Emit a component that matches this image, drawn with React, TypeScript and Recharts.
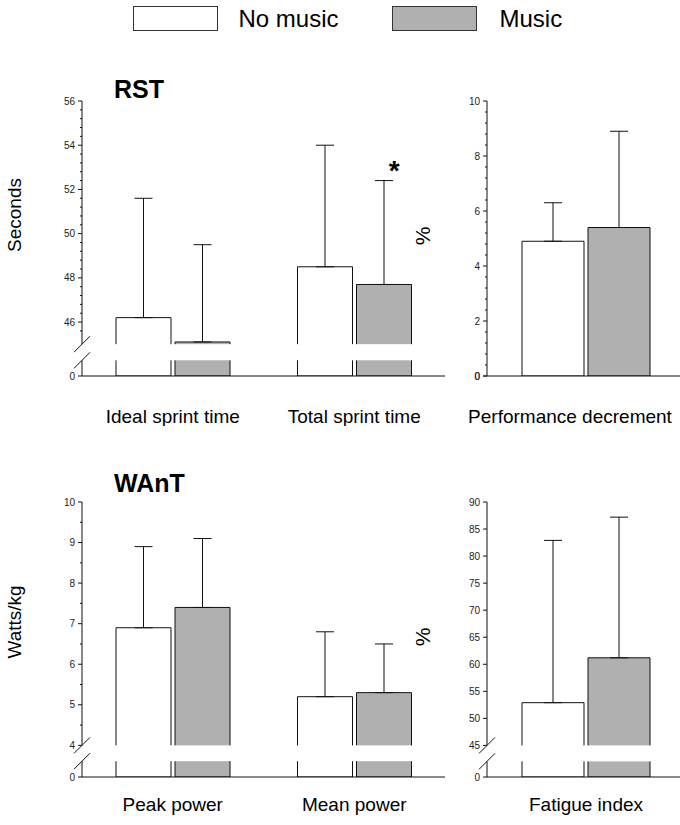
import { BarChart, Bar, XAxis, YAxis, ErrorBar, ReferenceArea, ReferenceDot } from 'recharts'

const FONT = '"Liberation Sans", Arial, Helvetica, sans-serif'

const seriesNames = ['No music', 'Music']
const seriesColors = ['#ffffff', '#b0b0b0']

// RST: sprint times (s)
const rstTimeCategories = ['Ideal sprint time', 'Total sprint time']
const rstTimeNoMusic = [46.2, 48.5]
const rstTimeMusic = [45.1, 47.7]
const rstTimeNoMusicSd = [5.4, 5.5]
const rstTimeMusicSd = [4.4, 4.7]
const rstTimeTicks = [46, 48, 50, 52, 54, 56]

// RST: performance decrement (%)
const rstDecCategories = ['Performance decrement']
const rstDecNoMusic = [4.9]
const rstDecMusic = [5.4]
const rstDecNoMusicSd = [1.4]
const rstDecMusicSd = [3.5]
const rstDecTicks = [0, 2, 4, 6, 8, 10]

// WAnT: power (W/kg)
const wantPowerCategories = ['Peak power', 'Mean power']
const wantPowerNoMusic = [6.9, 5.2]
const wantPowerMusic = [7.4, 5.3]
const wantPowerNoMusicSd = [2.0, 1.6]
const wantPowerMusicSd = [1.7, 1.2]
const wantPowerTicks = [4, 5, 6, 7, 8, 9, 10]

// WAnT: fatigue index (%)
const wantFatigueCategories = ['Fatigue index']
const wantFatigueNoMusic = [52.9]
const wantFatigueMusic = [61.2]
const wantFatigueNoMusicSd = [30.0]
const wantFatigueMusicSd = [26.0]
const wantFatigueTicks = [45, 50, 55, 60, 65, 70, 75, 80, 85, 90]

// significant difference marker (music vs no music)
const starCategory = 'Total sprint time'
const starValue = 52.4

const steps = (from: number, to: number, step: number) => {
  const out: number[] = []
  for (let i = 0; from + i * step <= to + 1e-9; i++) out.push(Math.round((from + i * step) * 100) / 100)
  return out
}

const near = (a: number, b: number) => Math.abs(a - b) < 1e-6

function YTick({ x, y, payload, majors, bottom }: any) {
  const v = payload.value
  const isBottom = near(v, bottom)
  const isMajor = isBottom || majors.some((m: number) => near(m, v))
  return (
    <g>
      <line x1={x - (isMajor ? 4 : 2)} x2={x} y1={y} y2={y} stroke="#111" />
      {isMajor && (
        <text x={x - 7} y={y} dy="0.36em" textAnchor="end" fontSize={10} fontFamily={FONT} fill="#222">
          {isBottom ? '0' : v}
        </text>
      )}
    </g>
  )
}

function XTick({ x, y, payload, shift }: any) {
  return (
    <text x={x + (shift || 0)} y={y} dy="0.71em" textAnchor="middle" fontSize={19} fontFamily={FONT} fill="#000">
      {payload.value}
    </text>
  )
}

function BreakShape({ x, y, width, height }: any) {
  return (
    <g>
      <rect x={x - 3} y={y} width={width + 3} height={height} fill="#fff" />
      <line x1={x - 8} y1={y + 8} x2={x + 8} y2={y - 8} stroke="#111" />
      <line x1={x - 8} y1={y + height + 8} x2={x + 8} y2={y + height - 8} stroke="#111" />
    </g>
  )
}

interface PanelProps {
  left: number
  top: number
  width: number
  height: number
  categories: string[]
  noMusic: number[]
  music: number[]
  noMusicSd: number[]
  musicSd: number[]
  domain: [number, number]
  majors: number[]
  minors: number[]
  axisBreak?: [number, number]
  barSize: number
  labelGap: number
  labelShift?: number
  star?: boolean
}

function Panel(p: PanelProps) {
  const rows = p.categories.map((name, i) => ({
    name,
    noMusic: p.noMusic[i],
    music: p.music[i],
    noMusicErr: [0, p.noMusicSd[i]],
    musicErr: [0, p.musicSd[i]],
  }))
  const ticks = [p.domain[0], ...p.minors, ...p.majors].sort((a, b) => a - b)
  return (
    <div style={{ position: 'absolute', left: p.left, top: p.top }}>
      <BarChart
        width={p.width}
        height={p.height}
        data={rows}
        barGap={4}
        margin={{ top: 41, right: 0, left: 0, bottom: 0 }}
      >
        <XAxis
          dataKey="name"
          height={p.height - 41 - 275}
          axisLine={{ stroke: '#111' }}
          tickLine={false}
          tickSize={0}
          tickMargin={p.labelGap}
          interval={0}
          tick={<XTick shift={p.labelShift} />}
        />
        <YAxis
          type="number"
          width={82}
          domain={p.domain}
          allowDataOverflow
          ticks={ticks}
          interval={0}
          axisLine={{ stroke: '#111' }}
          tickLine={false}
          tickSize={0}
          tickMargin={0}
          tick={(tp: any) => <YTick {...tp} majors={p.majors} bottom={p.domain[0]} />}
        />
        <Bar dataKey="noMusic" name={seriesNames[0]} fill={seriesColors[0]} stroke="#111" strokeWidth={1} barSize={p.barSize} isAnimationActive={false}>
          <ErrorBar dataKey="noMusicErr" width={9} stroke="#111" strokeWidth={1} direction="y" isAnimationActive={false} />
        </Bar>
        <Bar dataKey="music" name={seriesNames[1]} fill={seriesColors[1]} stroke="#111" strokeWidth={1} barSize={p.barSize} isAnimationActive={false}>
          <ErrorBar dataKey="musicErr" width={9} stroke="#111" strokeWidth={1} direction="y" isAnimationActive={false} />
        </Bar>
        {p.axisBreak && (
          <ReferenceArea
            y1={p.axisBreak[0]}
            y2={p.axisBreak[1]}
            ifOverflow="visible"
            shape={<BreakShape />}
            zIndex={1500}
          />
        )}
        {p.star && (
          <ReferenceDot
            x={starCategory}
            y={starValue}
            r={0}
            zIndex={1600}
            shape={(d: any) => (
              <text x={d.cx + 40} y={d.cy - 1} textAnchor="middle" fontSize={28} fontWeight="bold" fontFamily={FONT} fill="#000">
                *
              </text>
            )}
          />
        )}
      </BarChart>
    </div>
  )
}

export default function App() {
  return (
    <div
      style={{
        position: 'absolute',
        left: 0,
        top: 0,
        width: 680,
        height: 825,
        overflow: 'hidden',
        background: '#fff',
        fontFamily: FONT,
      }}
    >
      {/* legend */}
      <svg width={680} height={45} style={{ position: 'absolute', left: 0, top: 0 }}>
        {seriesNames.map((name, i) => (
          <g key={name}>
            <rect x={133.5 + i * 259} y={6.5} width={84} height={24} fill={seriesColors[i]} stroke="#333" />
            <text x={238.5 + i * 261} y={27} fontSize={24} fontFamily={FONT} fill="#000">
              {name}
            </text>
          </g>
        ))}
      </svg>

      <Panel
        left={0}
        top={60}
        width={445}
        height={366}
        categories={rstTimeCategories}
        noMusic={rstTimeNoMusic}
        music={rstTimeMusic}
        noMusicSd={rstTimeNoMusicSd}
        musicSd={rstTimeMusicSd}
        domain={[43.56, 56]}
        majors={rstTimeTicks}
        minors={steps(45.6, 56, 0.4).filter(v => !rstTimeTicks.some(m => near(m, v)))}
        axisBreak={[44.27, 45.0]}
        barSize={55}
        labelGap={34}
        star
      />
      <Panel
        left={405}
        top={60}
        width={280}
        height={366}
        categories={rstDecCategories}
        noMusic={rstDecNoMusic}
        music={rstDecMusic}
        noMusicSd={rstDecNoMusicSd}
        musicSd={rstDecMusicSd}
        domain={[0, 10]}
        majors={rstDecTicks}
        minors={steps(0.4, 10, 0.4).filter(v => !rstDecTicks.some(m => near(m, v)))}
        barSize={62}
        labelGap={34}
        labelShift={-16}
      />
      <Panel
        left={0}
        top={461}
        width={445}
        height={364}
        categories={wantPowerCategories}
        noMusic={wantPowerNoMusic}
        music={wantPowerMusic}
        noMusicSd={wantPowerNoMusicSd}
        musicSd={wantPowerMusicSd}
        domain={[3.22, 10]}
        majors={wantPowerTicks}
        minors={steps(4.5, 9.5, 1)}
        axisBreak={[3.61, 4.0]}
        barSize={55}
        labelGap={21}
      />
      <Panel
        left={405}
        top={461}
        width={280}
        height={364}
        categories={wantFatigueCategories}
        noMusic={wantFatigueNoMusic}
        music={wantFatigueMusic}
        noMusicSd={wantFatigueNoMusicSd}
        musicSd={wantFatigueMusicSd}
        domain={[39.16, 90]}
        majors={wantFatigueTicks}
        minors={[]}
        axisBreak={[42.05, 45.0]}
        barSize={62}
        labelGap={21}
      />

      {/* titles and axis titles */}
      <svg width={680} height={825} style={{ position: 'absolute', left: 0, top: 0, pointerEvents: 'none' }}>
        <text x={114} y={98} fontSize={25} fontWeight="bold" fontFamily={FONT} fill="#000">RST</text>
        <text x={114} y={492} fontSize={25} fontWeight="bold" fontFamily={FONT} fill="#000">WAnT</text>
        <text x={14} y={215} transform="rotate(-90 14 215)" textAnchor="middle" dominantBaseline="central" fontSize={19} fontFamily={FONT} fill="#000">Seconds</text>
        <text x={14} y={622} transform="rotate(-90 14 622)" textAnchor="middle" dominantBaseline="central" fontSize={19} fontFamily={FONT} fill="#000">Watts/kg</text>
        <text x={422} y={236} transform="rotate(-90 422 236)" textAnchor="middle" dominantBaseline="central" fontSize={21} fontFamily={FONT} fill="#000">%</text>
        <text x={422} y={637} transform="rotate(-90 422 637)" textAnchor="middle" dominantBaseline="central" fontSize={21} fontFamily={FONT} fill="#000">%</text>
      </svg>
    </div>
  )
}
